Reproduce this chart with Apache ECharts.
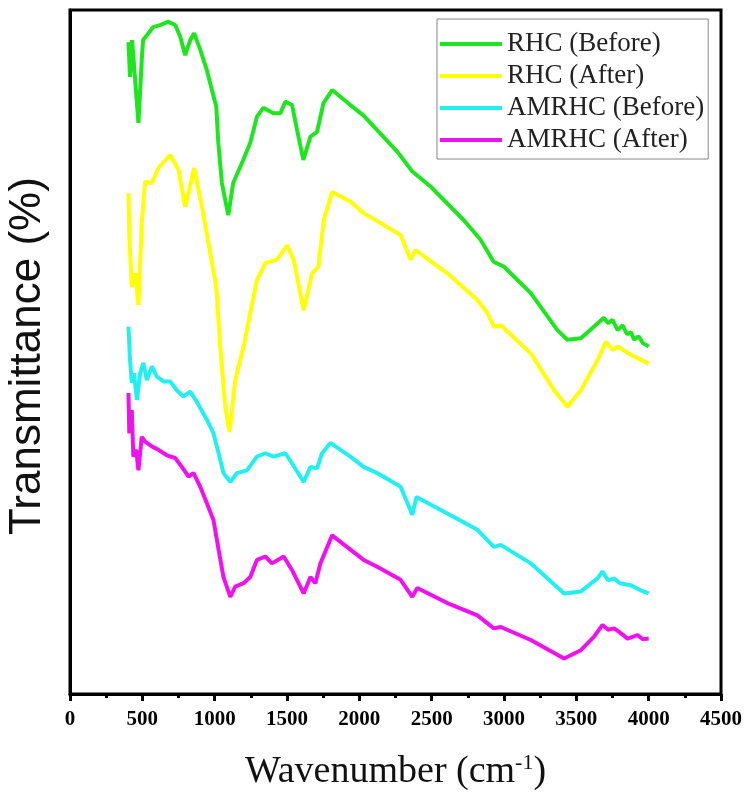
<!DOCTYPE html>
<html>
<head>
<meta charset="utf-8">
<script src="https://cdn.jsdelivr.net/npm/echarts@6/dist/echarts.min.js"></script>
<style>
html,body{margin:0;padding:0;background:#fff;}
#chart{width:747px;height:792px;}
</style>
</head>
<body>
<div id="chart"></div>
<script>
// Series names
var seriesNames = ['RHC (Before)', 'RHC (After)', 'AMRHC (Before)', 'AMRHC (After)'];

// RHC (Before)
var rhcBeforeX = [404,415,429,473,496,505,531,575,623,678,727,762,796,831,858,900,946,981,1011,1025,1050,1094,1128,1198,1246,1292,1336,1405,1454,1488,1535,1569,1613,1662,1708,1752,1812,1938,2028,2262,2366,2492,2721,2838,2928,2998,3185,3369,3438,3531,3621,3690,3720,3750,3785,3820,3850,3877,3900,3930,3960,4000];
var rhcBeforeY = [95.3,90.2,95.6,83.5,92.7,95.6,96.3,97.5,97.8,98.3,97.8,96.1,93.4,95.6,96.6,94.2,91.2,88.3,85.9,80.6,74.7,70.0,74.7,78.1,80.6,84.4,85.7,84.9,84.9,86.6,86.1,82.5,78.1,81.5,82.2,86.4,88.3,86.1,84.6,79.3,76.4,74.2,69.3,66.4,63.2,62.5,58.6,53.2,51.8,52.0,53.7,55.0,54.2,54.7,53.2,53.9,52.6,52.9,51.8,52.3,51.3,50.8];

// RHC (After)
var rhcAfterX = [404,410,427,450,473,496,519,566,611,692,750,796,858,912,969,1011,1038,1073,1103,1142,1200,1246,1292,1350,1431,1500,1546,1615,1673,1717,1754,1812,1938,2030,2285,2354,2388,2608,2816,2885,2930,2977,3185,3346,3438,3531,3646,3704,3750,3785,3877,4000];
var rhcAfterY = [73.2,66.9,59.5,61.5,56.9,68.9,74.9,74.7,76.9,78.8,76.6,71.2,76.9,71.2,64.5,59.5,50.8,42.0,38.3,45.9,50.8,55.7,60.5,63.0,63.5,65.6,63.5,56.1,61.5,62.5,69.3,73.4,72.0,70.3,67.1,63.5,64.9,61.5,57.6,55.7,53.7,53.9,49.8,44.4,42.0,44.4,48.8,51.5,50.3,50.8,49.6,48.3];

// AMRHC (Before)
var amBeforeX = [404,415,427,443,462,485,507,531,566,600,646,692,738,784,831,877,946,992,1027,1061,1108,1154,1223,1292,1350,1407,1488,1535,1615,1662,1708,1742,1800,1938,2030,2123,2285,2366,2395,2608,2816,2930,2977,3185,3415,3531,3646,3681,3720,3761,3800,3877,3940,4000];
var amBeforeY = [53.7,48.8,45.5,46.9,43.0,46.9,48.4,45.9,47.9,46.4,45.7,45.7,44.4,43.5,44.2,42.7,40.1,38.1,35.2,32.3,31.0,32.3,32.7,34.7,35.2,34.7,35.2,33.7,31.0,33.2,33.0,35.2,36.7,34.7,33.2,32.3,30.3,26.2,28.8,26.4,24.0,21.5,21.8,19.1,14.7,15.0,16.9,17.9,16.6,16.9,16.2,15.9,15.2,14.7];

// AMRHC (After)
var amAfterX = [404,410,427,438,457,473,496,519,566,611,669,727,773,819,854,900,946,992,1027,1061,1108,1142,1200,1246,1292,1350,1396,1477,1535,1615,1662,1696,1731,1812,1938,2030,2123,2285,2366,2400,2608,2816,2930,2977,3185,3415,3531,3623,3681,3720,3761,3800,3854,3923,3960,4000];
var amAfterY = [44.0,38.1,41.5,34.7,35.7,32.7,37.6,36.9,36.2,35.7,34.9,34.5,33.2,31.8,32.3,30.3,27.9,25.4,21.1,17.1,14.2,15.7,16.2,17.1,19.6,20.1,19.1,20.1,18.1,14.7,17.1,16.2,19.1,23.2,21.1,19.6,18.6,16.7,14.2,15.5,13.3,11.5,9.6,9.8,7.9,5.2,6.4,8.4,10.1,9.4,9.6,9.0,8.1,8.6,8.0,8.1];

// X axis ticks
var xMin = 0, xMax = 4500, xStep = 500;

function pairs(xs, ys) {
  var out = [];
  for (var i = 0; i < xs.length; i++) out.push([xs[i], ys[i]]);
  return out;
}

var colors = ['#1ee61e', '#ffff00', '#22f0f0', '#f010f0'];
var seriesData = [
  pairs(rhcBeforeX, rhcBeforeY),
  pairs(rhcAfterX, rhcAfterY),
  pairs(amBeforeX, amBeforeY),
  pairs(amAfterX, amAfterY)
];

var chart = echarts.init(document.getElementById('chart'), null, {renderer: 'canvas'});
chart.setOption({
  animation: false,
  backgroundColor: '#fff',
  grid: {
    left: 70, right: 26, top: 10, bottom: 98,
    outerBoundsMode: 'none',
    containLabel: false,
    show: true, borderColor: '#000', borderWidth: 3, backgroundColor: 'transparent'
  },
  legend: {
    data: seriesNames,
    orient: 'vertical',
    left: 437, top: 19,
    backgroundColor: '#fff',
    borderColor: '#888', borderWidth: 1,
    padding: [10, 4, 4, 3],
    itemGap: 2,
    itemWidth: 62, itemHeight: 4,
    icon: 'rect',
    textStyle: {fontFamily: 'Liberation Serif', fontSize: 27, color: '#222', lineHeight: 30}
  },
  xAxis: {
    type: 'value',
    min: xMin, max: xMax, interval: xStep,
    name: '{m|Wavenumber (cm}{s|-1}{m|)}',
    nameLocation: 'middle',
    nameGap: 58,
    nameTextStyle: {
      rich: {
        m: {fontFamily: 'Liberation Serif', fontSize: 38, color: '#111'},
        s: {fontFamily: 'Liberation Serif', fontSize: 22, color: '#111', verticalAlign: 'top', padding: [0, 0, 18, 0]}
      }
    },
    axisLine: {show: true, lineStyle: {color: '#000', width: 3}},
    axisTick: {show: true, inside: false, length: 7, lineStyle: {color: '#000', width: 3}},
    minorTick: {show: true, splitNumber: 2, length: 4, lineStyle: {color: '#000', width: 3}},
    axisLabel: {
      fontFamily: 'Liberation Serif', fontWeight: 'bold', fontSize: 21, color: '#000', margin: 15,
      formatter: function (v) { return String(v); }
    },
    splitLine: {show: false}
  },
  yAxis: {
    type: 'value',
    min: 0, max: 100,
    name: 'Transmittance (%)',
    nameLocation: 'middle',
    nameGap: 20,
    nameTextStyle: {fontFamily: 'Liberation Sans', fontSize: 44, color: '#111', padding: [0, 8, 0, 0]},
    axisLine: {show: true, lineStyle: {color: '#000', width: 3}},
    axisTick: {show: false},
    axisLabel: {show: false},
    splitLine: {show: false}
  },
  series: seriesNames.map(function (n, i) {
    return {
      name: n,
      type: 'line',
      data: seriesData[i],
      showSymbol: false,
      symbol: 'none',
      smooth: false,
      color: colors[i],
      lineStyle: {width: 4, color: colors[i]},
      z: 5 - i
    };
  })
});
</script>
</body>
</html>
